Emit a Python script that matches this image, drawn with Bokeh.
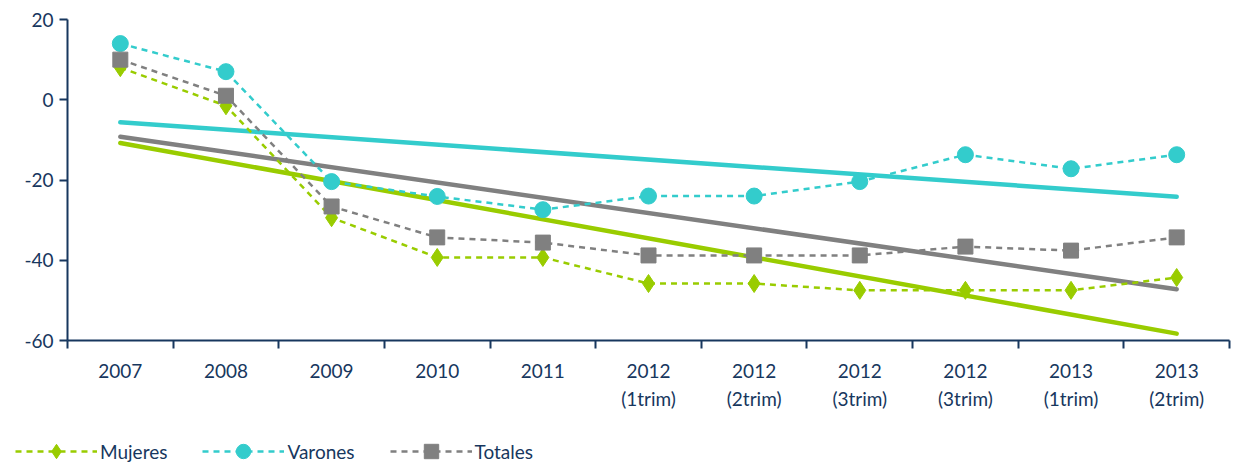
import numpy as np
from bokeh.plotting import figure
from bokeh.layouts import column
from bokeh.models import FixedTicker, Legend, LegendItem, Range1d, ColumnDataSource
from bokeh.embed import file_html
from bokeh.resources import INLINE

categories = ["2007", "2008", "2009", "2010", "2011",
              "2012\n(1trim)", "2012\n(2trim)", "2012\n(3trim)", "2012\n(3trim)",
              "2013\n(1trim)", "2013\n(2trim)"]
mujeres = [8.0, -1.5, -29.4, -39.3, -39.3, -45.8, -45.8, -47.5, -47.5, -47.5, -44.3]
varones = [14.0, 7.0, -20.4, -24.1, -27.4, -24.0, -24.0, -20.4, -13.7, -17.2, -13.7]
totales = [10.0, 1.0, -26.6, -34.3, -35.6, -38.8, -38.8, -38.8, -36.6, -37.6, -34.3]
series_names = ["Mujeres", "Varones", "Totales"]
y_ticks = [-60, -40, -20, 0, 20]
y_labels = ["-60", "-40", "-20", "0", "20"]

GREEN = "#99CC00"
CYAN = "#33CCCC"
GRAY = "#808080"
NAVY = "#17375E"
FONT = "Lato"
FS = "19px"

n = len(categories)
xc = [i + 0.5 for i in range(n)]

p = figure(width=1248, height=416, output_backend="svg", toolbar_location=None,
           x_range=Range1d(0, n), y_range=Range1d(-60, 20),
           min_border_left=67, min_border_right=19, min_border_top=19, min_border_bottom=76)
p.outline_line_color = None
p.xgrid.visible = False
p.ygrid.visible = False
p.frame_align = False

# trend lines (linear fit of each series)
xi = np.arange(n)
for vals, col in [(varones, CYAN), (totales, GRAY), (mujeres, GREEN)]:
    k, b = np.polyfit(xi, vals, 1)
    p.line([xc[0], xc[-1]], [b, k * (n - 1) + b], line_color=col, line_width=4.5, line_cap="round")

styles = [(mujeres, GREEN, "diamond", 18),
          (varones, CYAN, "circle", 16),
          (totales, GRAY, "square", 15)]
sources = []
for vals, col, marker, size in styles:
    src = ColumnDataSource(dict(x=xc, y=vals))
    sources.append(src)
    p.line("x", "y", source=src, line_color=col, line_width=2.5, line_dash="6 5")
    p.scatter("x", "y", source=src, marker=marker, size=size,
              fill_color=col, line_color=col)

# axes
p.yaxis.ticker = FixedTicker(ticks=y_ticks)
p.yaxis.major_label_overrides = {t: l for t, l in zip(y_ticks, y_labels)}
p.yaxis.axis_line_color = NAVY
p.yaxis.axis_line_width = 2
p.yaxis.major_tick_line_color = NAVY
p.yaxis.major_tick_line_width = 2
p.yaxis.major_tick_out = 8
p.yaxis.major_tick_in = 0
p.yaxis.minor_tick_line_color = None
p.yaxis.major_label_text_font = FONT
p.yaxis.major_label_text_font_size = FS
p.yaxis.major_label_text_color = NAVY
p.yaxis.major_label_standoff = 6

p.xaxis.ticker = FixedTicker(ticks=xc, minor_ticks=list(range(n + 1)))
p.xaxis.major_label_overrides = {x: c for x, c in zip(xc, categories)}
p.xaxis.axis_line_color = NAVY
p.xaxis.axis_line_width = 2
p.xaxis.major_tick_line_color = None
p.xaxis.minor_tick_line_color = NAVY
p.xaxis.minor_tick_line_width = 2
p.xaxis.minor_tick_out = 8
p.xaxis.minor_tick_in = 0
p.xaxis.major_label_text_font = FONT
p.xaxis.major_label_text_font_size = FS
p.xaxis.major_label_text_color = NAVY
p.xaxis.major_label_text_line_height = 1.25
p.xaxis.major_label_standoff = 10

# legend strip below the chart (its renderers use the series data, kept out of view)
leg = figure(width=1248, height=50, output_backend="svg", toolbar_location=None,
             x_axis_type=None, y_axis_type=None, min_border=0,
             x_range=Range1d(0, n), y_range=Range1d(1000, 1001))
leg.outline_line_color = None
leg.xgrid.visible = False
leg.ygrid.visible = False
leg.frame_align = False
items = []
for name, src, (vals, col, marker, size) in zip(series_names, sources, styles):
    lr = leg.line("x", "y", source=src, line_color=col, line_width=2.5, line_dash="6 5")
    sr = leg.scatter("x", "y", source=src, marker=marker, size=size,
                     fill_color=col, line_color=col)
    items.append(LegendItem(label=name, renderers=[lr, sr]))
legend = Legend(items=items, orientation="horizontal", location=(15, -3),
                glyph_width=82, glyph_height=36, label_standoff=3, spacing=35,
                padding=0, margin=0, border_line_color=None, background_fill_alpha=0,
                label_text_font=FONT, label_text_font_size=FS, label_text_color=NAVY)
leg.add_layout(legend, "center")

open("out.html", "w").write(file_html(column(p, leg, spacing=0), INLINE))
